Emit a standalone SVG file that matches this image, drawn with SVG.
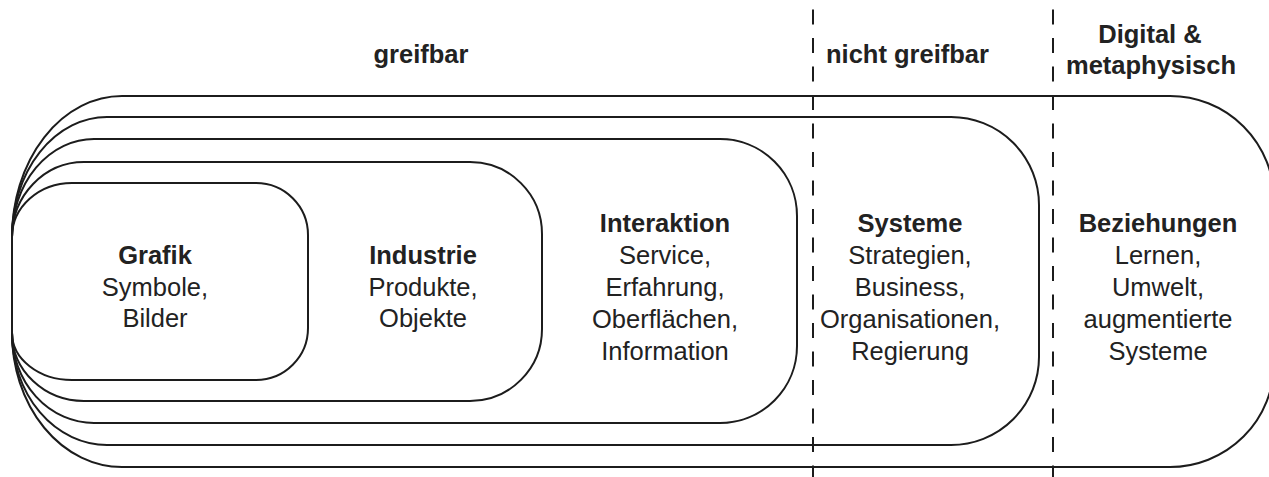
<svg xmlns="http://www.w3.org/2000/svg" width="1269" height="477" viewBox="0 0 1269 477">
  <style>
    .ring { fill: none; stroke: #1c1c1c; stroke-width: 2; }
    .divider { stroke: #1c1c1c; stroke-width: 2; stroke-dasharray: 15 13.5; fill: none; }
    text { font-family: "Liberation Sans", Arial, sans-serif; fill: #222; font-size: 25.5px; text-anchor: middle; }
    .b { font-weight: bold; }
    .head { font-weight: bold; }
  </style>
  <rect width="1269" height="477" fill="#fff"/>

  <!-- column headings -->
  <g id="headings">
    <text class="head" x="421" y="63">greifbar</text>
    <text class="head" x="826" y="63" style="text-anchor:start">nicht greifbar</text>
    <text class="head" x="1150" y="43">Digital &amp;</text>
    <text class="head" x="1151" y="74">metaphysisch</text>
  </g>

  <!-- nested scopes, outermost first -->
  <g id="beziehungen">
    <path class="ring" d="M122,96 H1170 A104,104 0 0 1 1274,200 V363 A104,104 0 0 1 1170,467 H122 A110,134 0 0 1 12,333 V237 A110,141 0 0 1 122,96 Z"/>
    <text x="1158" y="232"><tspan class="b">Beziehungen</tspan><tspan x="1158" dy="32">Lernen,</tspan><tspan x="1158" dy="32">Umwelt,</tspan><tspan x="1158" dy="32">augmentierte</tspan><tspan x="1158" dy="32">Systeme</tspan></text>
  </g>

  <g id="systeme">
    <path class="ring" d="M107,117 H951 A88,88 0 0 1 1039,205 V357 A88,88 0 0 1 951,445 H107 A95,112 0 0 1 12,333 V237 A95,120 0 0 1 107,117 Z"/>
    <text x="910" y="232"><tspan class="b">Systeme</tspan><tspan x="910" dy="32">Strategien,</tspan><tspan x="910" dy="32">Business,</tspan><tspan x="910" dy="32">Organisationen,</tspan><tspan x="910" dy="32">Regierung</tspan></text>
  </g>

  <g id="interaktion">
    <path class="ring" d="M94,139 H720 A77,77 0 0 1 797,216 V346 A77,77 0 0 1 720,423 H94 A82,90 0 0 1 12,333 V237 A82,98 0 0 1 94,139 Z"/>
    <text x="665" y="232"><tspan class="b">Interaktion</tspan><tspan x="665" dy="32">Service,</tspan><tspan x="665" dy="32">Erfahrung,</tspan><tspan x="665" dy="32">Oberflächen,</tspan><tspan x="665" dy="32">Information</tspan></text>
  </g>

  <g id="industrie">
    <path class="ring" d="M84,162 H470 A72,72 0 0 1 542,234 V329 A72,72 0 0 1 470,401 H84 A72,68 0 0 1 12,333 V237 A72,75 0 0 1 84,162 Z"/>
    <text x="423" y="264"><tspan class="b">Industrie</tspan><tspan x="423" dy="31.5">Produkte,</tspan><tspan x="423" dy="31.5">Objekte</tspan></text>
  </g>

  <g id="grafik">
    <path class="ring" d="M72,183 H256 A52,52 0 0 1 308,235 V328 A52,52 0 0 1 256,380 H72 A60,47 0 0 1 12,333 V237 A60,54 0 0 1 72,183 Z"/>
    <text x="155" y="264"><tspan class="b">Grafik</tspan><tspan x="155" dy="31.5">Symbole,</tspan><tspan x="155" dy="31.5">Bilder</tspan></text>
  </g>

  <!-- dashed column dividers -->
  <g id="dividers">
    <line class="divider" x1="813" y1="9.5" x2="813" y2="477"/>
    <line class="divider" x1="1053" y1="9.5" x2="1053" y2="477"/>
  </g>
</svg>
